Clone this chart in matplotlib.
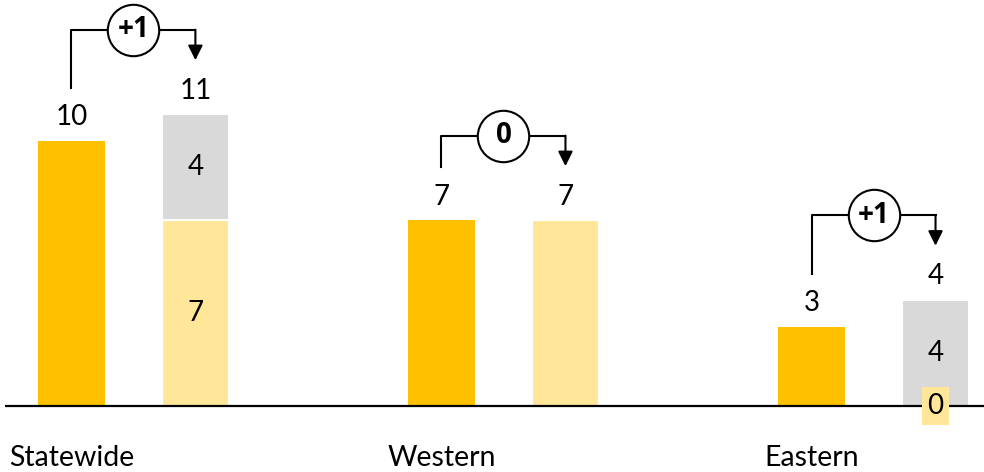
import numpy as np
import matplotlib
matplotlib.use('Agg')
from matplotlib import pyplot as plt

# data
regions = ['Statewide', 'Western', 'Eastern']
prior = [10, 7, 3]
base = [7, 7, 0]
added = [4, 0, 4]

DARK = '#FFC000'
LIGHT = '#FFE699'
GRAY = '#D9D9D9'

plt.rcParams['font.family'] = ['Lato', 'DejaVu Sans']

fig = plt.figure(figsize=(9.84, 4.72), dpi=100)
ax = fig.add_axes([0, 0, 1, 1])
ax.set_xlim(-0.193, 2.466)
ax.set_ylim(-2.49, 15.32)
ax.axis('off')

x = np.arange(len(regions))
off = 0.335
w = 0.181
total = np.array(base) + np.array(added)

ax.bar(x, prior, width=w, color=DARK, zorder=2)
ax.bar(x + off, base, width=w, color=LIGHT, edgecolor='white', linewidth=1.5, zorder=2)
ax.bar(x + off, added, bottom=base, width=w, color=GRAY, edgecolor='white', linewidth=1.5, zorder=2)

# baseline
ax.plot([-0.18, 2.466], [0, 0], color='black', lw=1.6, zorder=3, solid_capstyle='butt')

fs = 20
for i, r in enumerate(regions):
    ax.text(x[i], -1.95, r, ha='center', va='center', fontsize=20.5)
    ax.text(x[i], prior[i] + 0.9, str(prior[i]), ha='center', va='center', fontsize=fs)
    ax.text(x[i] + off, total[i] + 0.9, str(total[i]), ha='center', va='center', fontsize=fs)
    if added[i] > 0:
        ax.text(x[i] + off, base[i] + added[i] / 2, str(added[i]), ha='center', va='center', fontsize=fs, zorder=4)
        ax.text(x[i] + off, base[i] / 2, str(base[i]), ha='center', va='center', fontsize=fs, zorder=4,
                bbox=dict(boxstyle='square,pad=0.2', facecolor=LIGHT, edgecolor='none'))

    # change bracket
    yh = total[i] + 3.2
    ax.plot([x[i], x[i], x[i] + off], [prior[i] + 2.0, yh, yh], color='black', lw=1.5, zorder=3)
    ax.annotate('', xy=(x[i] + off, total[i] + 2.05), xytext=(x[i] + off, yh),
                arrowprops=dict(arrowstyle='-|>', color='black', lw=1.5, mutation_scale=22,
                                shrinkA=0, shrinkB=0), zorder=3)
    d = total[i] - prior[i]
    lab = f'+{d}' if d > 0 else str(d)
    ax.plot(x[i] + off / 2, yh, marker='o', markersize=37, markerfacecolor='white',
            markeredgecolor='black', markeredgewidth=1.5, zorder=4)
    ax.text(x[i] + off / 2, yh, lab, ha='center', va='center', fontsize=20, fontweight='bold',
            family=['Open Sans', 'DejaVu Sans'], zorder=5)

fig.savefig('out.png', dpi=100)
